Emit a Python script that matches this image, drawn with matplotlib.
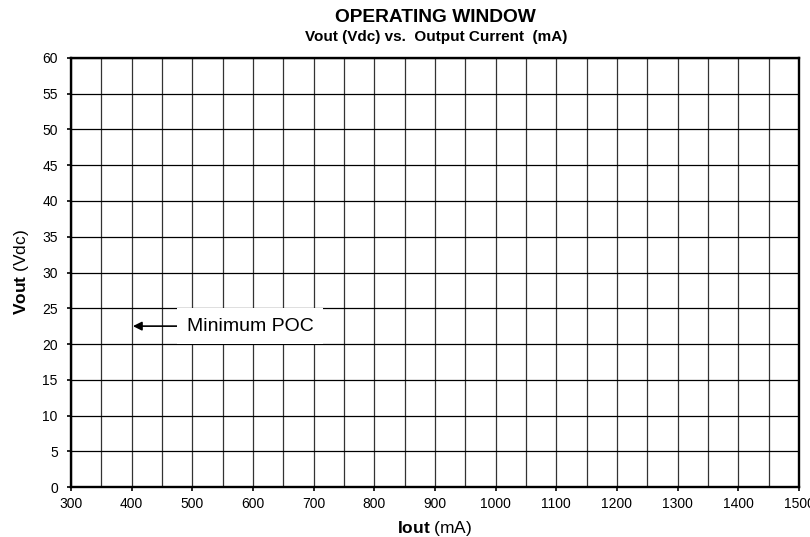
import numpy as np
import matplotlib
matplotlib.use('Agg')
import matplotlib.pyplot as plt

plt.rcParams['font.family'] = ['Liberation Sans', 'DejaVu Sans']
plt.rcParams['mathtext.fontset'] = 'custom'
plt.rcParams['mathtext.rm'] = 'Liberation Sans'
plt.rcParams['mathtext.bf'] = 'Liberation Sans:bold'

# axis ranges and grids
x_min, x_max = 300, 1500
y_min, y_max = 0, 60
x_labels = np.arange(300, 1501, 100)
x_grid = np.arange(300, 1501, 50)
y_labels = np.arange(0, 61, 5)

# annotation
poc_label = 'Minimum POC'
poc_point = (402, 22.5)
poc_text = (491, 22.5)

fig = plt.figure(figsize=(8.1, 5.37), dpi=100)
ax = fig.add_axes([0.0877, 0.0931, 0.8987, 0.7989])

ax.set_xlim(x_min, x_max)
ax.set_ylim(y_min, y_max)
ax.set_xticks(x_labels)
ax.set_xticks(x_grid, minor=True)
ax.set_yticks(y_labels)
ax.tick_params(axis='both', labelsize=10, length=3, width=1.2, color='black')
ax.tick_params(axis='y', pad=6.5)
ax.tick_params(axis='x', pad=4)
ax.tick_params(axis='x', which='minor', length=0)
ax.grid(True, which='major', axis='y', color='black', linewidth=0.9)
ax.grid(True, which='both', axis='x', color='#333333', linewidth=0.9)
for s in ax.spines.values():
    s.set_linewidth(1.7)
    s.set_color('black')

ax.annotate(poc_label, xy=poc_point, xytext=poc_text,
            fontsize=14, va='center', ha='left',
            bbox=dict(boxstyle='square,pad=0.5', fc='white', ec='none'),
            arrowprops=dict(arrowstyle='-|>', color='black', lw=1.2,
                            mutation_scale=13, shrinkA=0, shrinkB=0))

ax.set_xlabel(r'$\bf{Iout}$ (mA)', fontsize=12.5, labelpad=6)
ax.set_ylabel(r'$\bf{Vout}$ (Vdc)', fontsize=12.5, labelpad=8)

fig.text(0.538, 0.967, 'OPERATING WINDOW', ha='center', va='center',
         fontsize=13.8, fontweight='bold')
fig.text(0.538, 0.932, 'Vout (Vdc) vs.  Output Current  (mA)', ha='center', va='center',
         fontsize=11, fontweight='bold')

fig.savefig('out.png', dpi=100)
